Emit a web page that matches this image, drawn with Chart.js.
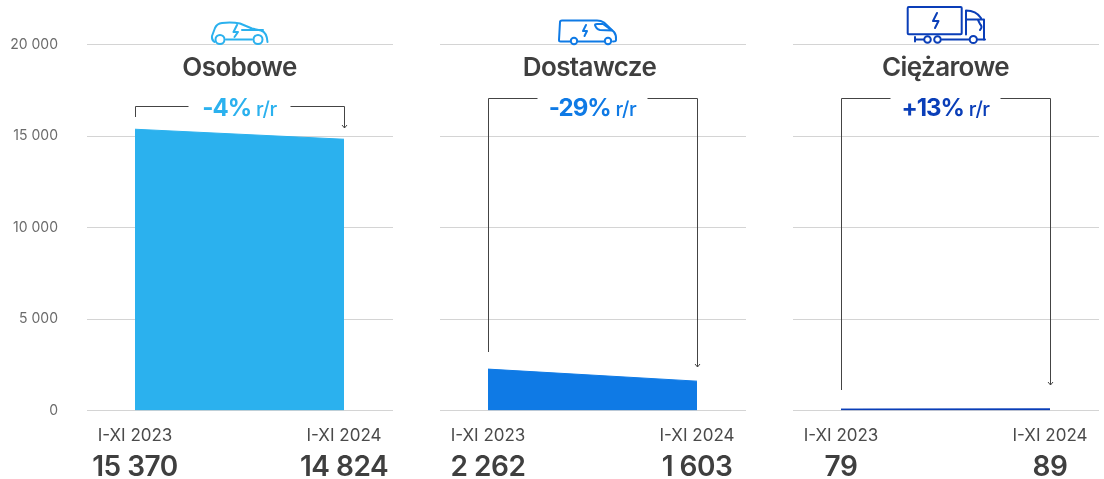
<!DOCTYPE html>
<html lang="pl">
<head>
<meta charset="utf-8">
<title>Rejestracje pojazdów elektrycznych</title>
<script src="https://cdn.jsdelivr.net/npm/chart.js@4"></script>
<style>
  html, body { margin: 0; padding: 0; background: #fff; }
  body { position: relative; width: 1104px; height: 479px; overflow: hidden; }
  canvas { position: absolute; top: 0; }
  #icons { position: absolute; left: 0; top: 0; pointer-events: none; }
  #icons * { fill: none; stroke-width: 2; stroke-linecap: round; stroke-linejoin: round; }
</style>
</head>
<body>
<canvas id="chartOsobowe" width="393" height="479" style="left:0"></canvas>
<canvas id="chartDostawcze" width="393" height="479" style="left:353px"></canvas>
<canvas id="chartCiezarowe" width="393" height="479" style="left:706px"></canvas>

<svg id="icons" width="1104" height="479">
  <!-- car -->
  <g style="stroke:#2bb1ee">
    <path d="M214.5 42 Q211.5 40 212 36 L215 28 Q217 23.5 222 23 Q232 22 240 23.5 L252 28.5 L261 30.5 Q267 32.5 267.5 42"/>
    <circle cx="220" cy="39.5" r="4.5"/><circle cx="258" cy="39.5" r="4.5"/>
    <path d="M226 39.5H252M242 30H263M237 25L233.5 32H238L234.5 37"/>
  </g>
  <!-- van -->
  <g style="stroke:#0f7ae5">
    <path d="M570 41.5H560.5Q559 41.5 559 40L560 22Q560 20.5 562 20.5H597Q601 20.5 604 22.5L614 32Q616.5 35 616 40Q616 41.5 613 41.5M578 41.5H604"/>
    <circle cx="574" cy="41" r="3.2"/><circle cx="608" cy="41" r="3.2"/>
    <path d="M595 25Q595 24 597 24H603L612 30.5L600 30Q596 29 595 25ZM586 25L583 31H587L584.5 36"/>
  </g>
  <!-- truck -->
  <g style="stroke:#0a3eb8">
    <rect x="907.7" y="7" width="54" height="27.3" rx="1"/>
    <path d="M966 34.5V10.5Q976 10.5 981 18M966 19.5H984V39.5M978 20L980 24Q983 27 980 30M937 13L933 21H938.5L935 28"/>
    <path d="M915 37V41.5M915 39.5H923.5M942 39.5H969M977.5 39.5H985"/>
    <circle cx="927.5" cy="39.5" r="3.3"/><circle cx="937.5" cy="39.5" r="3.3"/><circle cx="973.3" cy="39.5" r="3.6"/>
  </g>
</svg>

<script>
const categories = ['I-XI 2023', 'I-XI 2024'];
const yTicks = [0, 5000, 10000, 15000, 20000];
const osobowe = [15370, 14824];
const dostawcze = [2262, 1603];
const ciezarowe = [79, 89];
const titles = ['Osobowe', 'Dostawcze', 'Ciężarowe'];
const deltas = ['-4%', '-29%', '+13%'];
const colors = ['#2bb1ee', '#0f7ae5', '#0a3eb8'];

Chart.defaults.font.family = 'Inter, sans-serif';

// 15370 -> "15 370"
function fmt(v) {
    return String(v).replace(/\B(?=(\d{3})+$)/g, '\u00a0');
}

// title, y/y bracket and the big numbers under the axis
const panelText = {
    id: 'panelText',
    afterDraw(chart, args, opts) {
        const ctx = chart.ctx;
        const x = chart.scales.x;
        const cx = (x.getPixelForValue(0) + x.getPixelForValue(1)) / 2;
        const x0 = x.getPixelForValue(0) + 0.5;
        const x1 = x.getPixelForValue(1) + 0.5;
        ctx.save();
        ctx.textAlign = 'center';
        ctx.textBaseline = 'alphabetic';

        ctx.fillStyle = '#3f3f3f';
        ctx.font = '600 26px Inter, sans-serif';
        ctx.letterSpacing = '-0.6px';
        ctx.fillText(opts.title, cx + opts.titleDx, 76);

        // delta text, bold part plus lighter "r/r"
        ctx.textAlign = 'left';
        ctx.font = '700 24px Inter, sans-serif';
        ctx.letterSpacing = '-1px';
        const w1 = ctx.measureText(opts.delta).width;
        ctx.font = '500 20px Inter, sans-serif';
        ctx.letterSpacing = '-0.5px';
        const w2 = ctx.measureText(' r/r').width;
        const start = cx - (w1 + w2) / 2;
        ctx.fillStyle = opts.color;
        ctx.font = '700 24px Inter, sans-serif';
        ctx.letterSpacing = '-1px';
        ctx.fillText(opts.delta, start, 116);
        ctx.font = '500 20px Inter, sans-serif';
        ctx.letterSpacing = '-0.5px';
        ctx.fillText(' r/r', start + w1, 116);

        // bracket with arrow
        ctx.strokeStyle = '#444';
        ctx.lineWidth = 1;
        ctx.beginPath();
        ctx.moveTo(x0, opts.leftEnd);
        ctx.lineTo(x0, opts.top + 0.5);
        ctx.lineTo(cx - opts.gap, opts.top + 0.5);
        ctx.moveTo(cx + opts.gap, opts.top + 0.5);
        ctx.lineTo(x1, opts.top + 0.5);
        ctx.lineTo(x1, opts.rightEnd);
        ctx.moveTo(x1 - 2.5, opts.rightEnd - 3);
        ctx.lineTo(x1, opts.rightEnd);
        ctx.lineTo(x1 + 2.5, opts.rightEnd - 3);
        ctx.stroke();

        // big values
        ctx.textAlign = 'center';
        ctx.fillStyle = '#3f3f3f';
        ctx.font = '600 28px Inter, sans-serif';
        ctx.letterSpacing = '-0.5px';
        chart.data.datasets[0].data.forEach((p) => {
            ctx.fillText(fmt(p.y), x.getPixelForValue(p.x), 476);
        });
        ctx.restore();
    }
};

function makePanel(id, values, i, bracket) {
    return new Chart(document.getElementById(id).getContext('2d'), {
        type: 'line',
        data: {
            datasets: [{
                data: values.map((v, k) => ({ x: k, y: v })),
                backgroundColor: colors[i],
                borderColor: colors[i],
                borderWidth: 1,
                pointRadius: 0,
                tension: 0,
                fill: 'origin'
            }]
        },
        plugins: [panelText],
        options: {
            responsive: false,
            animation: false,
            layout: { padding: { top: 44.5, bottom: 0, left: 0, right: 0 } },
            plugins: {
                legend: { display: false },
                tooltip: { enabled: false },
                panelText: Object.assign({ title: titles[i], delta: deltas[i], color: colors[i] }, bracket)
            },
            scales: {
                x: {
                    type: 'linear',
                    min: -0.2297,
                    max: 1.2344,
                    grid: { display: false },
                    border: { display: false },
                    afterBuildTicks: (axis) => { axis.ticks = [{ value: 0 }, { value: 1 }]; },
                    afterFit: (axis) => { axis.height = 68.5; },
                    ticks: {
                        autoSkip: false,
                        maxRotation: 0,
                        padding: 7,
                        color: '#4a4a4a',
                        font: { size: 17 },
                        callback: (v) => categories[v]
                    }
                },
                y: {
                    min: 0,
                    max: 20000,
                    border: { display: false },
                    grid: { color: '#d4d4d4', drawTicks: false },
                    afterBuildTicks: (axis) => { axis.ticks = yTicks.map((v) => ({ value: v })); },
                    afterFit: (axis) => { axis.width = 87; },
                    ticks: {
                        padding: 29,
                        color: '#6b6b6b',
                        font: { size: 14 },
                        // only the first panel carries the y labels
                        callback: (v) => (i === 0 ? fmt(v) : '')
                    }
                }
            }
        }
    });
}

makePanel('chartOsobowe', osobowe, 0, { top: 106, gap: 51, leftEnd: 117, rightEnd: 128, titleDx: 0 });
makePanel('chartDostawcze', dostawcze, 1, { top: 98, gap: 55, leftEnd: 352, rightEnd: 367, titleDx: -3 });
makePanel('chartCiezarowe', ciezarowe, 2, { top: 98, gap: 55, leftEnd: 390, rightEnd: 385, titleDx: 0 });
</script>
</body>
</html>
